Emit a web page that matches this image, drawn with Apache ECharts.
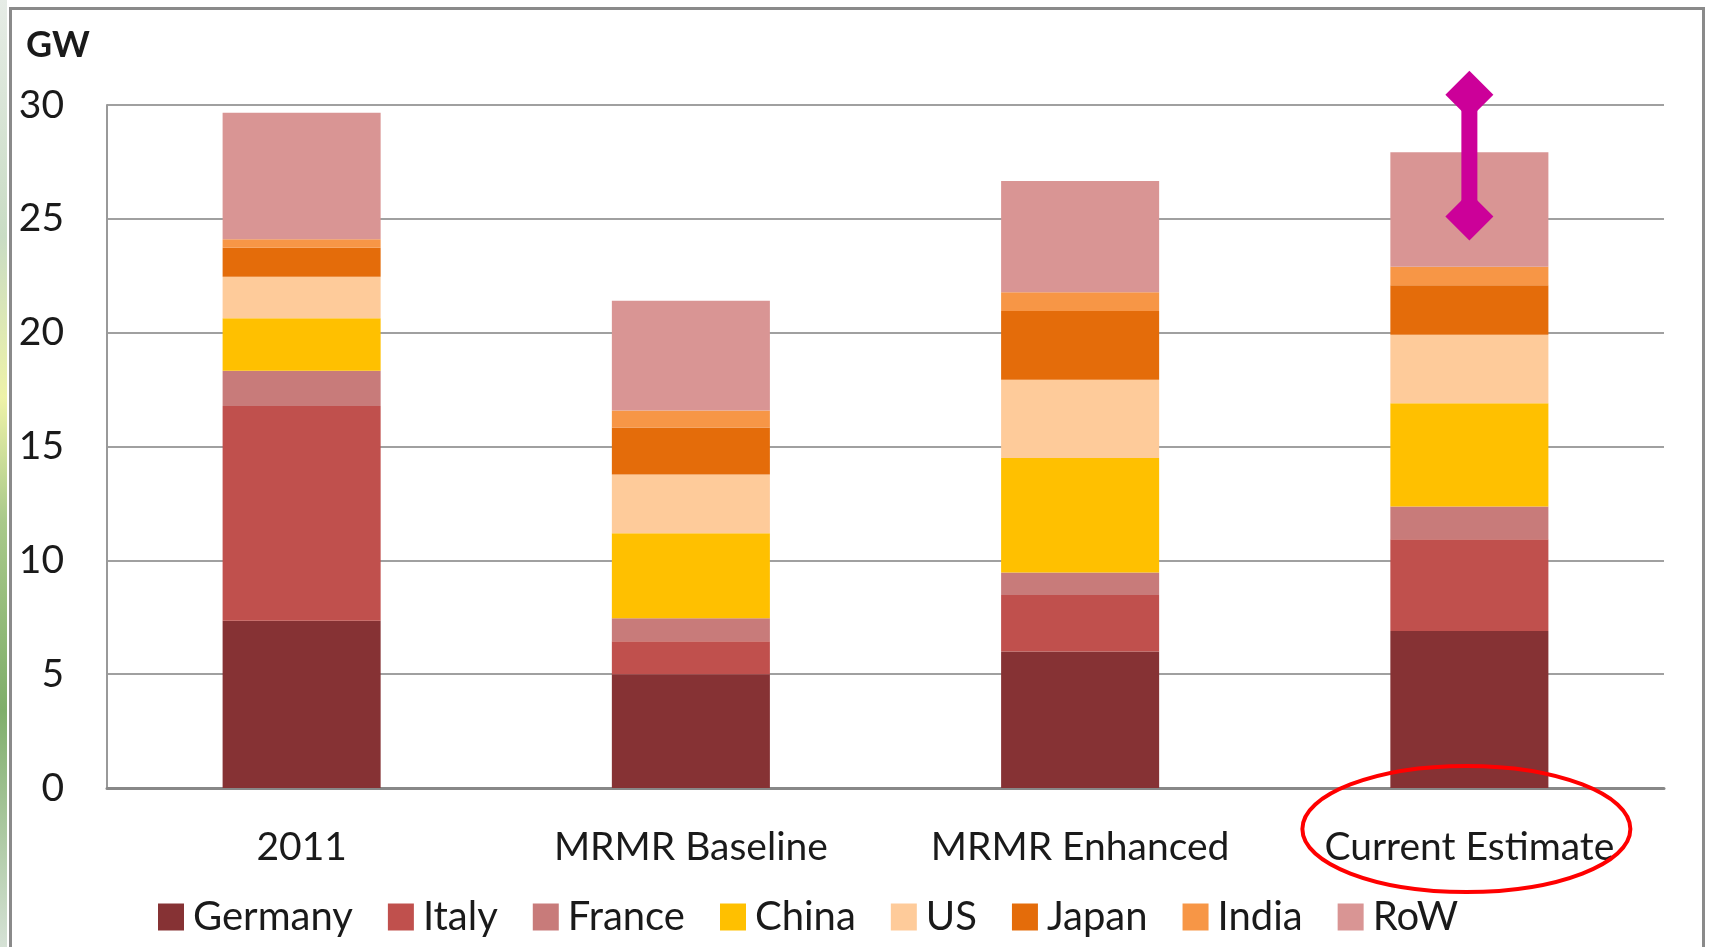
<!DOCTYPE html>
<html>
<head>
<meta charset="utf-8">
<title>GW by country</title>
<script src="https://cdn.jsdelivr.net/npm/echarts@6/dist/echarts.min.js"></script>
<style>
  html, body { margin: 0; padding: 0; background: #fff; }
  #chart { width: 1709px; height: 947px; }
</style>
</head>
<body>
<div id="chart"></div>
<script>
const categories = ['2011', 'MRMR Baseline', 'MRMR Enhanced', 'Current Estimate']

const germany = [7.35, 5.0, 6.0, 6.9]
const italy = [9.43, 1.45, 2.48, 4.03]
const france = [1.55, 1.01, 0.99, 1.43]
const china = [2.3, 3.73, 5.02, 4.54]
const us = [1.83, 2.58, 3.44, 3.01]
const japan = [1.27, 2.07, 3.02, 2.17]
const india = [0.37, 0.74, 0.82, 0.82]
const row = [5.56, 4.82, 4.89, 5.03]

// range marker on the current estimate bar
const rangeCategory = 'Current Estimate'
const rangeLow = 25.1
const rangeHigh = 30.45

const FONT = 'Lato'
const TEXT = '#1a1a1a'

const stacks = [
  { name: 'Germany', data: germany, color: '#863234' },
  { name: 'Italy', data: italy, color: '#C0504D' },
  { name: 'France', data: france, color: '#C87B7A' },
  { name: 'China', data: china, color: '#FFC000' },
  { name: 'US', data: us, color: '#FECB9A' },
  { name: 'Japan', data: japan, color: '#E46C0A' },
  { name: 'India', data: india, color: '#F79646' },
  { name: 'RoW', data: row, color: '#D99594' },
]

function renderRange(params, api) {
  const top = api.coord([api.value(0), api.value(2)])
  const bottom = api.coord([api.value(0), api.value(1)])
  const base = api.coord([api.value(0), 0])
  const d = 24
  const diamond = (x, y) => [[x, y - d], [x + d, y], [x, y + d], [x - d, y]]
  const magenta = '#CC0099'
  return {
    type: 'group',
    children: [
      {
        type: 'line',
        shape: { x1: top[0], y1: top[1], x2: bottom[0], y2: bottom[1] },
        style: { stroke: magenta, lineWidth: 16 },
      },
      { type: 'polygon', shape: { points: diamond(top[0], top[1]) }, style: { fill: magenta } },
      { type: 'polygon', shape: { points: diamond(bottom[0], bottom[1]) }, style: { fill: magenta } },
      {
        type: 'ellipse',
        shape: { cx: base[0] - 3, cy: base[1] + 41, rx: 164, ry: 63 },
        style: { fill: 'none', stroke: '#FF0000', lineWidth: 4 },
      },
    ],
  }
}

const chart = echarts.init(document.getElementById('chart'))
chart.setOption({
  backgroundColor: '#fff',
  animation: false,
  title: {
    text: 'GW',
    left: 21,
    top: 22,
    textStyle: { fontFamily: FONT, fontSize: 36, fontWeight: 'bold', color: TEXT },
  },
  graphic: [
    {
      type: 'rect',
      left: 0,
      top: 0,
      shape: { width: 7, height: 947 },
      style: {
        fill: new echarts.graphic.LinearGradient(0, 0, 0, 1, [
          { offset: 0, color: '#e6ece6' },
          { offset: 0.25, color: '#c9dcc4' },
          { offset: 0.42, color: '#eef2a8' },
          { offset: 0.55, color: '#a9c98a' },
          { offset: 0.75, color: '#7fae6a' },
          { offset: 1, color: '#d6e2d6' },
        ]),
      },
      z: -1,
    },
    {
      type: 'rect',
      left: 8,
      top: 6,
      shape: { width: 1693, height: 960 },
      style: { fill: 'none', stroke: '#8a8a8a', lineWidth: 3 },
      z: -1,
    },
  ],
  legend: {
    left: 153,
    top: 892,
    itemWidth: 26,
    itemHeight: 27,
    itemGap: 35,
    icon: 'rect',
    textStyle: { fontFamily: FONT, fontSize: 40, color: TEXT, padding: [0, 0, 0, 4] },
    data: stacks.map((s) => s.name),
  },
  grid: { left: 107, right: 45, top: 105, bottom: 159 },
  xAxis: {
    type: 'category',
    data: categories,
    axisLine: { lineStyle: { color: '#888', width: 3 } },
    axisTick: { length: 17, lineStyle: { color: '#888', width: 2 } },
    axisLabel: { fontFamily: FONT, fontSize: 39, color: TEXT, margin: 40 },
  },
  yAxis: {
    type: 'value',
    min: 0,
    max: 30,
    interval: 5,
    axisLine: { show: true, lineStyle: { color: '#999', width: 2 } },
    axisTick: { show: false },
    splitLine: { lineStyle: { color: '#a0a0a0', width: 2 } },
    axisLabel: { fontFamily: FONT, fontSize: 39, color: TEXT, margin: 43 },
  },
  series: [
    ...stacks.map((s) => ({
      name: s.name,
      type: 'bar',
      stack: 'gw',
      barWidth: '40.6%',
      itemStyle: { color: s.color },
      data: s.data,
    })),
    {
      type: 'custom',
      renderItem: renderRange,
      encode: { x: 0, y: [1, 2] },
      z: 10,
      data: [[rangeCategory, rangeLow, rangeHigh]],
    },
  ],
})
</script>
</body>
</html>
